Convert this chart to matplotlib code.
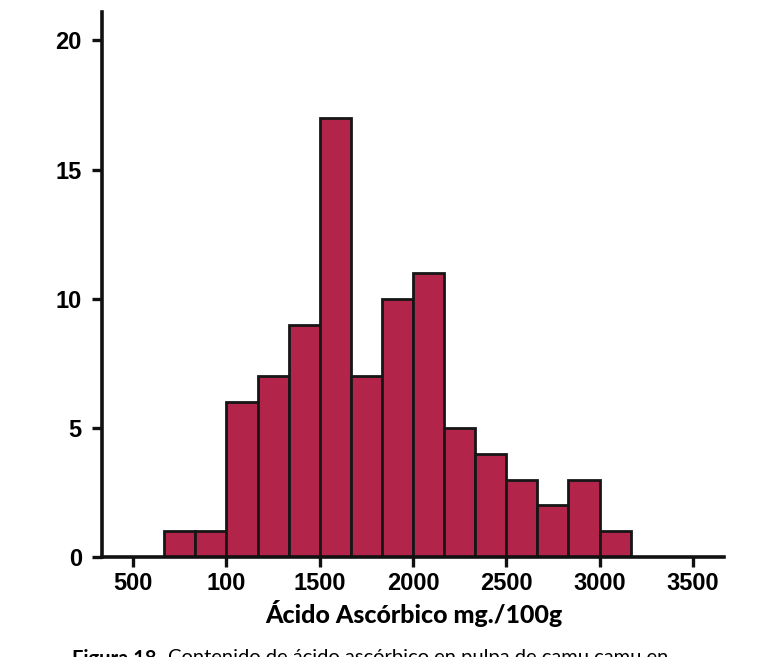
import numpy as np
import matplotlib
matplotlib.use('Agg')
import matplotlib.pyplot as plt

# histograma del acido ascorbico (conteos)
bin_edges = [666.7, 833.3, 1000.0, 1166.7, 1333.3, 1500.0, 1666.7, 1833.3,
             2000.0, 2166.7, 2333.3, 2500.0, 2666.7, 2833.3, 3000.0, 3166.7]
conteos = [1, 1, 6, 7, 9, 17, 7, 10, 11, 5, 4, 3, 2, 3, 1]
x_ticks = [500, 1000, 1500, 2000, 2500, 3000, 3500]
x_labels = ['500', '100', '1500', '2000', '2500', '3000', '3500']
y_ticks = [0, 5, 10, 15, 20]

color_barra = '#B3244B'

fig = plt.figure(figsize=(7.76, 6.57), dpi=100)
ax = fig.add_axes([102/776, 1 - 557/657, (724-102)/776, (557-12)/657])

ax.hist(bin_edges[:-1], bins=bin_edges, weights=conteos,
        color=color_barra, edgecolor='#161616', linewidth=2.0)

ax.set_xlim(333.3, 3666.7)
ax.set_ylim(0, 21.1)
ax.set_xticks(x_ticks)
ax.set_xticklabels(x_labels)
ax.set_yticks(y_ticks)

for s in ['top', 'right']:
    ax.spines[s].set_visible(False)
for s in ['left', 'bottom']:
    ax.spines[s].set_linewidth(2.6)
    ax.spines[s].set_color('#111111')

ax.tick_params(axis='both', width=2.4, length=7.5, color='#111111')
ax.tick_params(axis='x', pad=3)
ax.tick_params(axis='y', pad=7)
for lab in ax.get_xticklabels() + ax.get_yticklabels():
    lab.set_fontfamily('Liberation Sans')
    lab.set_fontweight('bold')
    lab.set_fontsize(17)

fig.text(414/776, 1 - 623/657, 'Ácido Ascórbico mg./100g', ha='center',
         va='baseline', fontsize=18, fontweight='black', family='Lato')

# pie de figura, cortado en el borde inferior como en el original
t1 = fig.text(72/776, 1 - 649/657, 'Figura 18.', ha='left', va='top',
              fontsize=14.5, fontweight='bold', family='Lato')
fig.canvas.draw()
bb = t1.get_window_extent()
fig.text((bb.x1 + 7) / 776, 1 - 649/657,
         'Contenido de ácido ascórbico en pulpa de camu camu en',
         ha='left', va='top', fontsize=14.5, family='Lato')

fig.savefig('out.png', dpi=100)
